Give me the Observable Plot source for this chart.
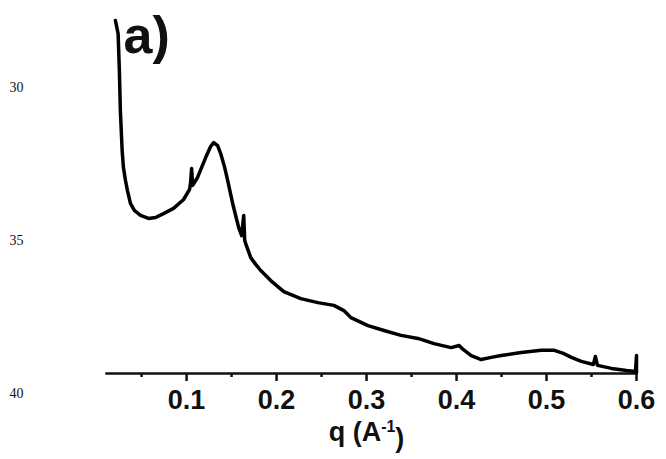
<!DOCTYPE html>
<html>
<head>
<meta charset="utf-8">
<script src="https://cdn.jsdelivr.net/npm/d3@7"></script>
<script src="https://cdn.jsdelivr.net/npm/@observablehq/plot@0.6"></script>
<style>
  html, body { margin: 0; padding: 0; background: #fff; }
</style>
</head>
<body>
<div id="chart"></div>
<script>
// scattering vector q (Å^-1)
const q = [0.0209, 0.0239, 0.0253, 0.0264, 0.0284, 0.0298, 0.0321, 0.0343, 0.0376, 0.0421,
  0.0488, 0.0577, 0.0655, 0.0744, 0.0855, 0.0967, 0.1033, 0.1045, 0.1056, 0.1067,
  0.1122, 0.1212, 0.1267, 0.1301, 0.1345, 0.1379, 0.1423, 0.1457, 0.1512, 0.1579,
  0.1612, 0.1635, 0.1646, 0.1657, 0.1713, 0.1768, 0.1824, 0.1935, 0.2080, 0.2269,
  0.2459, 0.2637, 0.2748, 0.2826, 0.3016, 0.3194, 0.3383, 0.3572, 0.3750, 0.3940,
  0.4029, 0.4073, 0.4163, 0.4274, 0.4385, 0.4497, 0.4719, 0.4942, 0.5087, 0.5187,
  0.5276, 0.5387, 0.5521, 0.5543, 0.5566, 0.5722, 0.5889, 0.5989, 0.6000, 0.6000];
// curve height, read against the left-margin numbering (30 top … 40 bottom)
const level = [27.81, 28.24, 29.44, 30.75, 32.06, 32.61, 33.04, 33.37, 33.79, 34.02,
  34.18, 34.28, 34.25, 34.12, 33.95, 33.66, 33.33, 33.10, 32.65, 33.20,
  32.94, 32.29, 31.93, 31.80, 31.90, 32.16, 32.61, 33.04, 33.79, 34.58,
  34.84, 34.18, 35.00, 35.10, 35.56, 35.78, 35.98, 36.31, 36.67, 36.90,
  37.03, 37.12, 37.29, 37.52, 37.78, 37.94, 38.10, 38.20, 38.37, 38.50,
  38.43, 38.56, 38.76, 38.89, 38.82, 38.76, 38.66, 38.59, 38.59, 38.69,
  38.82, 38.95, 39.05, 38.79, 39.08, 39.18, 39.25, 39.28, 38.76, 39.31];

const majorTicks = [0.1, 0.2, 0.3, 0.4, 0.5, 0.6];
const minorTicks = [0.05, 0.15, 0.25, 0.35, 0.45, 0.55];
const sideNumbers = [30, 35, 40];
const panelLabel = "a)";
const xTitle = "q (A⁻¹)";

const data = q.map((d, i) => ({q: d, v: level[i]}));
const sans = "'Liberation Sans', Arial, Helvetica, sans-serif";

const chart = Plot.plot({
  width: 666,
  height: 459,
  marginLeft: 106,
  marginRight: 30,
  marginTop: 0,
  marginBottom: 86,
  style: {fontFamily: sans, background: "#fff", color: "#111", overflow: "visible"},
  x: {domain: [0.011, 0.6]},
  y: {domain: [30, 40], range: [87, 393]},
  marks: [
    Plot.frame({anchor: "bottom", stroke: "#111", strokeWidth: 2.5}),
    Plot.axisX({ticks: minorTicks, tickSize: 4, strokeWidth: 2.5, tickFormat: () => "", label: null}),
    Plot.axisX({ticks: majorTicks, tickSize: 8, tickPadding: 8, strokeWidth: 2.5,
      fontSize: 27, fontWeight: "bold", tickFormat: d => d.toFixed(1), label: null}),
    Plot.axisY({ticks: sideNumbers, tickSize: 0, tickPadding: 83, fontSize: 14,
      fontFamily: "'Liberation Serif', 'Times New Roman', serif", label: null, tickFormat: d => String(d)}),
    Plot.line(data, {x: "q", y: "v", stroke: "#000", strokeWidth: 3.5, strokeLinejoin: "round", strokeLinecap: "round"}),
    Plot.text([panelLabel], {frameAnchor: "top-left", textAnchor: "start", lineAnchor: "top",
      dx: 17, dy: 16, fontSize: 52, fontWeight: "bold", fill: "#111"}),
    Plot.text([xTitle], {frameAnchor: "bottom", textAnchor: "middle", lineAnchor: "middle",
      dx: -5, dy: 59, fontSize: 27, fontWeight: "bold", fill: "#111"})
  ]
});

// render the exponent as a proper superscript
d3.select(chart).selectAll("text").filter(function() { return this.textContent === xTitle; })
  .each(function() {
    const t = d3.select(this);
    t.text(null);
    t.append("tspan").text("q (A");
    t.append("tspan").attr("font-size", 16).attr("dy", "-0.55em").text("-1");
    t.append("tspan").attr("dy", "0.55em").text(")");
  });

document.getElementById("chart").appendChild(chart);
</script>
</body>
</html>
